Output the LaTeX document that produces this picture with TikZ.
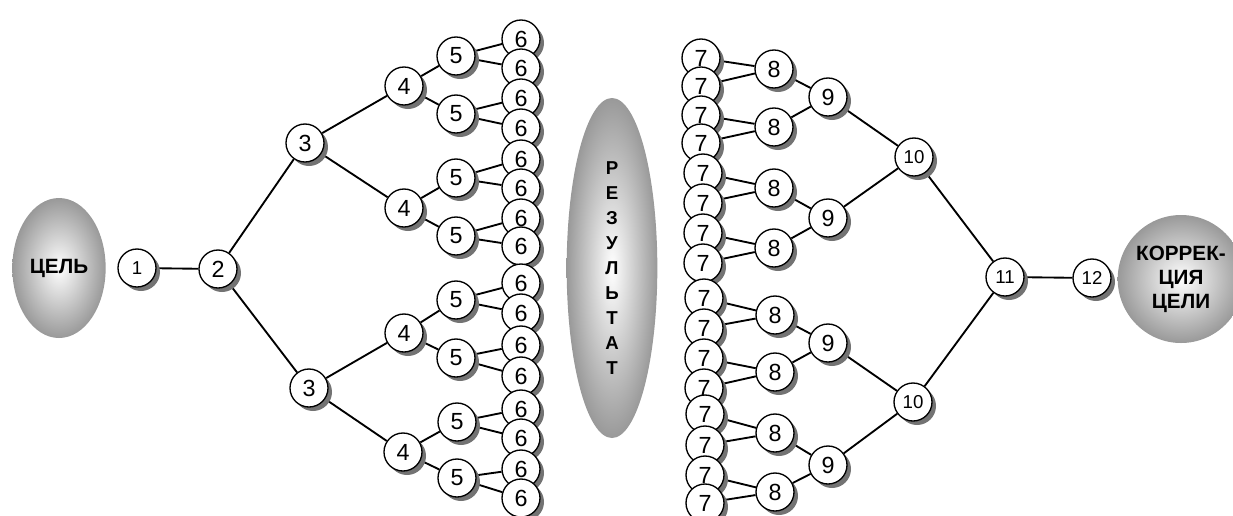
\documentclass[tikz,border=0pt]{standalone}
\usepackage{fontspec}
\setmainfont{Liberation Sans}
\usetikzlibrary{shapes.geometric, shadows, backgrounds}
\tikzset{
        x=0.75pt, y=-0.75pt, % one unit = one pixel, y downwards
        stage/.style={circle, draw, line width=1pt, fill=white, minimum size=28.5pt, inner sep=0pt,
                font=\fontsize{17.5}{18}\selectfont,
                drop shadow={shadow xshift=3pt, shadow yshift=-3pt, fill=black!55, opacity=1}},
        small/.style={font=\fontsize{14}{16}\selectfont},
        goal/.style={ellipse, inner sep=0pt, align=center, shading=radial,
                inner color=white, outer color=black!40,
                font=\bfseries\fontsize{15.5}{18}\selectfont}
        }

\begin{document}
\begin{tikzpicture}
        \useasboundingbox (0,0) rectangle (1233,515);
        % goals and result
        \node[goal, minimum width=70pt, minimum height=105pt] (goal) at (59,268) {ЦЕЛЬ};
        \node[goal, minimum width=68pt, minimum height=255pt,
              font=\bfseries\fontsize{14}{18.75}\selectfont] (result) at (612,268)
              {Р\\Е\\З\\У\\Л\\Ь\\Т\\А\\Т};
        \node[goal, minimum width=79.5pt, minimum height=96pt] (fix) at (1181,279) {КОРРЕК-\\ЦИЯ\\ЦЕЛИ};
        % left tree
        \node[stage, small] (n1) at (137,268) {1};
        \node[stage] (n2) at (218,269) {2};
        \node[stage] (n3a) at (305,143) {3};
        \node[stage] (n3b) at (309,388) {3};
        \node[stage] (n4a) at (404,86) {4};
        \node[stage] (n4b) at (404,208) {4};
        \node[stage] (n4c) at (404,333) {4};
        \node[stage] (n4d) at (403,452) {4};
        \node[stage] (n5a) at (456,56) {5};
        \node[stage] (n5b) at (456,114) {5};
        \node[stage] (n5c) at (456,178) {5};
        \node[stage] (n5d) at (456,236) {5};
        \node[stage] (n5e) at (456,300) {5};
        \node[stage] (n5f) at (456,358) {5};
        \node[stage] (n5g) at (457,422) {5};
        \node[stage] (n5h) at (457,478) {5};
        \node[stage] (n6a) at (521,39) {6};
        \node[stage] (n6b) at (521,68) {6};
        \node[stage] (n6c) at (521,98) {6};
        \node[stage] (n6d) at (521,128) {6};
        \node[stage] (n6e) at (521,159) {6};
        \node[stage] (n6f) at (521,188) {6};
        \node[stage] (n6g) at (521,218) {6};
        \node[stage] (n6h) at (521,246) {6};
        \node[stage] (n6i) at (521,283) {6};
        \node[stage] (n6j) at (521,313) {6};
        \node[stage] (n6k) at (521,345) {6};
        \node[stage] (n6l) at (521,376) {6};
        \node[stage] (n6m) at (521,409) {6};
        \node[stage] (n6n) at (521,438) {6};
        \node[stage] (n6o) at (521,469) {6};
        \node[stage] (n6p) at (521,498) {6};
        % right tree
        \node[stage] (n7a) at (701,58) {7};
        \node[stage] (n7b) at (701,86) {7};
        \node[stage] (n7c) at (701,115) {7};
        \node[stage] (n7d) at (701,143) {7};
        \node[stage] (n7e) at (703,173) {7};
        \node[stage] (n7f) at (703,203) {7};
        \node[stage] (n7g) at (703,233) {7};
        \node[stage] (n7h) at (703,263) {7};
        \node[stage] (n7i) at (704,298) {7};
        \node[stage] (n7j) at (704,328) {7};
        \node[stage] (n7k) at (704,358) {7};
        \node[stage] (n7l) at (704,388) {7};
        \node[stage] (n7m) at (705,414) {7};
        \node[stage] (n7n) at (705,445) {7};
        \node[stage] (n7o) at (705,475) {7};
        \node[stage] (n7p) at (705,503) {7};
        \node[stage] (n8a) at (774,69) {8};
        \node[stage] (n8b) at (774,127) {8};
        \node[stage] (n8c) at (774,188) {8};
        \node[stage] (n8d) at (774,248) {8};
        \node[stage] (n8e) at (775,315) {8};
        \node[stage] (n8f) at (775,372) {8};
        \node[stage] (n8g) at (775,433) {8};
        \node[stage] (n8h) at (775,492) {8};
        \node[stage] (n9a) at (828,97) {9};
        \node[stage] (n9b) at (828,218) {9};
        \node[stage] (n9c) at (828,343) {9};
        \node[stage] (n9d) at (828,465) {9};
        \node[stage, small] (n10a) at (914,157) {10};
        \node[stage, small] (n10b) at (913,402) {10};
        \node[stage, small] (n11) at (1005,277) {11};
        \node[stage, small] (n12) at (1092,278) {12};
        % connections
        \begin{scope}[on background layer={line width=1.4pt}]
        \draw (n1) edge (n2)
              (n2) edge (n3a) edge (n3b)
              (n3a) edge (n4a) edge (n4b)
              (n3b) edge (n4c) edge (n4d)
              (n4a) edge (n5a) edge (n5b)
              (n4b) edge (n5c) edge (n5d)
              (n4c) edge (n5e) edge (n5f)
              (n4d) edge (n5g) edge (n5h)
              (n5a) edge (n6a) edge (n6b)
              (n5b) edge (n6c) edge (n6d)
              (n5c) edge (n6e) edge (n6f)
              (n5d) edge (n6g) edge (n6h)
              (n5e) edge (n6i) edge (n6j)
              (n5f) edge (n6k) edge (n6l)
              (n5g) edge (n6m) edge (n6n)
              (n5h) edge (n6o) edge (n6p);
        \draw (n8a) edge (n7a) edge (n7b)
              (n8b) edge (n7c) edge (n7d)
              (n8c) edge (n7e) edge (n7f)
              (n8d) edge (n7g) edge (n7h)
              (n8e) edge (n7i) edge (n7j)
              (n8f) edge (n7k) edge (n7l)
              (n8g) edge (n7m) edge (n7n)
              (n8h) edge (n7o) edge (n7p)
              (n9a) edge (n8a) edge (n8b)
              (n9b) edge (n8c) edge (n8d)
              (n9c) edge (n8e) edge (n8f)
              (n9d) edge (n8g) edge (n8h)
              (n10a) edge (n9a) edge (n9b)
              (n10b) edge (n9c) edge (n9d)
              (n11) edge (n10a) edge (n10b) edge (n12);
        \end{scope}
\end{tikzpicture}
\end{document}
